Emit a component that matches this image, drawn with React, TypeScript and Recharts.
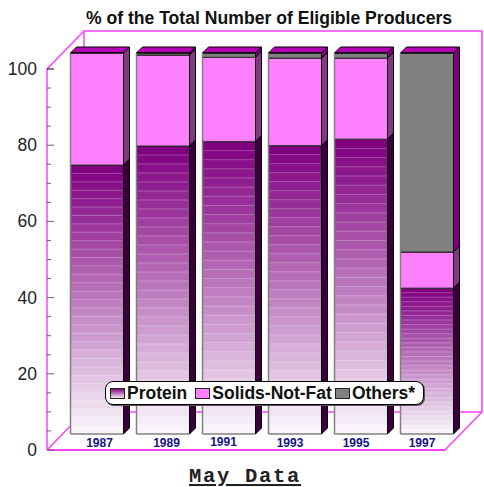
import React from 'react';
import { ComposedChart, Bar, XAxis, YAxis, Legend, Customized } from 'recharts';

const years = ['1987', '1989', '1991', '1993', '1995', '1997'];
const protein = [70.6, 75.6, 76.8, 75.7, 77.4, 38.3];
const solidsNotFat = [29.4, 23.9, 22.1, 23.0, 21.3, 9.5];
const others = [0, 0.5, 1.1, 1.3, 1.3, 52.2];
const yTicks = [0, 5, 10, 15, 20, 25, 30, 35, 40, 45, 50, 55, 60, 65, 70, 75, 80, 85, 90, 95, 100];

const rows = years.map((year, i) => ({
  year,
  protein: protein[i],
  solids: solidsNotFat[i],
  others: others[i],
}));

// layout of the fake 3D box
const W = 484;
const H = 487;
const LEFT = 47;
const TOP = 69;
const BOTTOM = 450;
const FLOOR_RIGHT = 445;
const WALL_DX = 37;
const WALL_DY = 38;
const BAR_DX = 16.5;
const BAR_DY = 16;
const DEPTH = 6;
const MAGENTA = '#ff40ff';
const BANDS = 32;

// the labels are not quite centred in the original
const tickNudge = [3, 4, -5, -4.5, -4.5, -4.5];

const mix = (t: number) => {
  const c = (a: number, b: number) => Math.round(a + (b - a) * t);
  return `rgb(${c(128, 248)},${c(0, 244)},${c(128, 250)})`;
};

const bandStops: React.ReactElement[] = [];
for (let i = 0; i < BANDS; i++) {
  const col = mix(i / (BANDS - 1));
  bandStops.push(<stop key={`a${i}`} offset={i / BANDS} stopColor={col} />);
  bandStops.push(<stop key={`b${i}`} offset={(i + 1) / BANDS} stopColor={col} />);
}

const Box3D = (fill: string, side: string, seams: boolean) => (props: any) => {
  const { x, y, width, height } = props;
  if (!height || height <= 0) return <g />;
  const l = x + BAR_DX;
  const t = y - BAR_DY;
  const r = l + width;
  const b = t + height;
  const lines = [];
  if (seams) {
    for (let i = 1; i < BANDS; i++) {
      const ly = t + (height * i) / BANDS;
      lines.push(
        <line key={i} x1={l + 1} x2={r - 1} y1={ly} y2={ly} stroke="#fff" strokeOpacity={0.25} strokeWidth={1} />
      );
    }
  }
  return (
    <g>
      <polygon
        points={`${l},${t} ${l + DEPTH},${t - DEPTH} ${r + DEPTH},${t - DEPTH} ${r},${t}`}
        fill="#b400b4"
        stroke="#000"
        strokeWidth={1}
      />
      <polygon
        points={`${r},${t} ${r + DEPTH},${t - DEPTH} ${r + DEPTH},${b - DEPTH} ${r},${b}`}
        fill={side}
        stroke="#000"
        strokeWidth={1}
      />
      <rect x={l} y={t} width={width} height={height} fill={fill} />
      {lines}
      <line x1={l} x2={r} y1={t} y2={t} stroke="#000" strokeWidth={1.5} />
      <line x1={r} x2={r} y1={t} y2={b} stroke="#000" strokeWidth={1} />
      <line x1={l} x2={r} y1={b} y2={b} stroke="#444" strokeWidth={1} />
      <line x1={l} x2={l} y1={t} y2={b} stroke="#808080" strokeWidth={1.5} />
    </g>
  );
};

const Walls = () => (
  <g fill="none" stroke={MAGENTA}>
    <polyline
      strokeWidth={1.5}
      points={`${LEFT},${TOP} ${LEFT + WALL_DX},${TOP - WALL_DY} ${FLOOR_RIGHT + WALL_DX},${TOP - WALL_DY} ${FLOOR_RIGHT + WALL_DX},${BOTTOM - WALL_DY} ${FLOOR_RIGHT},${BOTTOM}`}
    />
    <line strokeWidth={1.5} x1={LEFT + WALL_DX} y1={TOP - WALL_DY} x2={LEFT + WALL_DX} y2={BOTTOM - WALL_DY} />
    <line strokeWidth={1.5} x1={LEFT + WALL_DX} y1={BOTTOM - WALL_DY} x2={FLOOR_RIGHT + WALL_DX} y2={BOTTOM - WALL_DY} />
    <line strokeWidth={1.5} x1={LEFT} y1={BOTTOM} x2={LEFT + WALL_DX} y2={BOTTOM - WALL_DY} />
    <line strokeWidth={1.5} x1={LEFT} y1={TOP} x2={LEFT} y2={BOTTOM} />
    <line strokeWidth={2} x1={LEFT} y1={BOTTOM} x2={FLOOR_RIGHT} y2={BOTTOM} />
  </g>
);

const Captions = () => (
  <g>
    <text
      x={269}
      y={24}
      textAnchor="middle"
      fontFamily="Liberation Sans"
      fontWeight="bold"
      fontSize={17.6}
      fill="#111"
    >
      % of the Total Number of Eligible Producers
    </text>
    <text
      x={245}
      y={482}
      textAnchor="middle"
      fontFamily="Liberation Mono"
      fontWeight="bold"
      fontSize={20.5}
      letterSpacing={1.7}
      textDecoration="underline"
      fill="#222"
    >
      May Data
    </text>
  </g>
);

const YTick = (props: any) => {
  const { y, payload } = props;
  const major = payload.value % 20 === 0;
  return (
    <g>
      <line
        x1={LEFT}
        x2={LEFT + (major ? 7 : 4)}
        y1={y}
        y2={y}
        stroke={payload.value === 100 ? '#000' : '#666'}
        strokeWidth={1}
      />
      {major && (
        <text x={37} y={y + 6} textAnchor="end" fontFamily="Liberation Sans" fontSize={17.5} fill="#222">
          {payload.value}
        </text>
      )}
    </g>
  );
};

const XTick = (props: any) => {
  const { x, payload, index } = props;
  return (
    <text
      x={x + BAR_DX + tickNudge[index]}
      y={index === 2 ? 446 : 447}
      textAnchor="middle"
      fontFamily="Liberation Sans"
      fontWeight="bold"
      fontSize={12}
      fill="#14148c"
    >
      {payload.value}
    </text>
  );
};

const Swatch = ({ fill }: { fill: string }) => (
  <svg width={15} height={11} style={{ display: 'block', marginRight: 2 }}>
    <defs>
      <linearGradient id="legendProtein" x1="0" y1="0" x2="0" y2="1">
        {bandStops}
      </linearGradient>
    </defs>
    <rect x={0.5} y={0.5} width={14} height={10} fill={fill} stroke="#222" />
  </svg>
);

const legendItems = [
  { name: 'Protein', fill: 'url(#legendProtein)', gap: 8 },
  { name: 'Solids-Not-Fat', fill: '#ff80ff', gap: 3 },
  { name: 'Others*', fill: '#808080', gap: 0 },
];

const LegendBox = () => (
  <div
    style={{
      display: 'flex',
      alignItems: 'center',
      boxSizing: 'border-box',
      width: 319,
      height: 24,
      paddingLeft: 4,
      background: '#fff',
      border: '1px solid #000',
      borderRadius: 8,
      boxShadow: '1px 1px 0 #555',
      fontFamily: 'Liberation Sans',
      fontWeight: 'bold',
      fontSize: 17.5,
      color: '#111',
    }}
  >
    {legendItems.map((it) => (
      <div key={it.name} style={{ display: 'flex', alignItems: 'center', marginRight: it.gap }}>
        <Swatch fill={it.fill} />
        <span>{it.name}</span>
      </div>
    ))}
  </div>
);

export default function App() {
  return (
    <div style={{ position: 'absolute', left: 0, top: 0, width: W, height: H }}>
      <ComposedChart
        width={W}
        height={H}
        data={rows}
        barCategoryGap={13}
        margin={{ left: 0, top: TOP, right: W - LEFT - 396, bottom: 0 }}
      >
        <defs>
          <linearGradient id="proteinBands" x1="0" y1="0" x2="0" y2="1">
            {bandStops}
          </linearGradient>
        </defs>
        <Customized component={Walls} />
        <XAxis dataKey="year" height={H - BOTTOM} axisLine={false} tickLine={false} interval={0} tick={<XTick />} />
        <YAxis
          width={LEFT}
          domain={[0, 100]}
          ticks={yTicks}
          interval={0}
          axisLine={false}
          tickLine={false}
          tick={<YTick />}
        />
        <Bar
          dataKey="protein"
          name="Protein"
          stackId="a"
          barSize={53}
          isAnimationActive={false}
          shape={Box3D('url(#proteinBands)', '#3a003a', true)}
        />
        <Bar
          dataKey="solids"
          name="Solids-Not-Fat"
          stackId="a"
          barSize={53}
          isAnimationActive={false}
          shape={Box3D('#ff80ff', '#803a80', false)}
        />
        <Bar
          dataKey="others"
          name="Others*"
          stackId="a"
          barSize={53}
          isAnimationActive={false}
          shape={Box3D('#808080', '#800080', false)}
        />
        <Customized component={Captions} />
        <Legend
          layout="horizontal"
          verticalAlign="middle"
          align="center"
          content={<LegendBox />}
          wrapperStyle={{ left: 105, top: 381, width: 320 }}
        />
      </ComposedChart>
    </div>
  );
}
